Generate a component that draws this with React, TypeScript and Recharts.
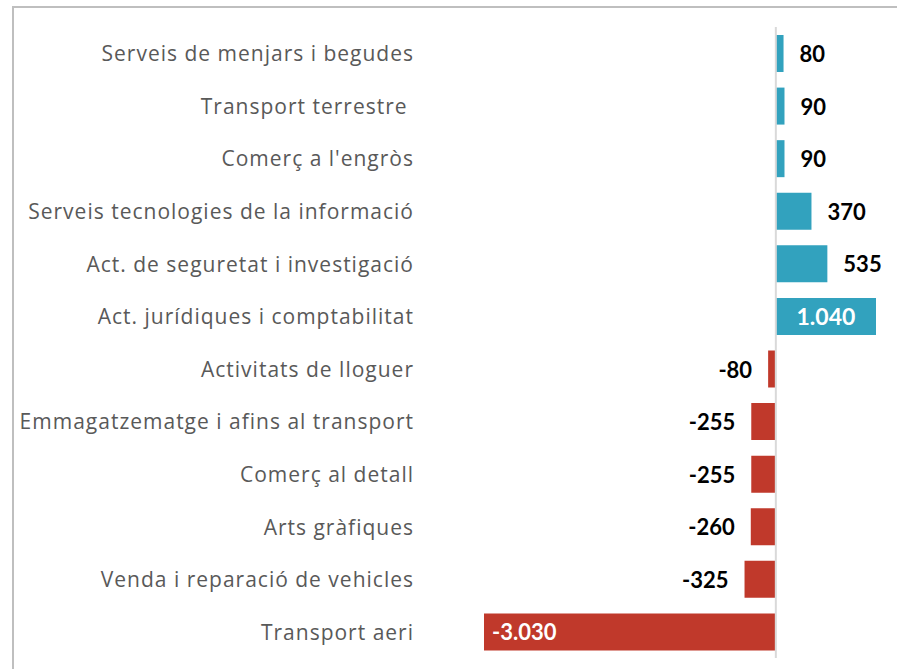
import { BarChart, Bar, XAxis, YAxis, ReferenceLine, Cell, LabelList } from "recharts";

const categories = [
  "Serveis de menjars i begudes",
  "Transport terrestre ",
  "Comerç a l'engròs",
  "Serveis tecnologies de la informació",
  "Act. de seguretat i investigació",
  "Act. jurídiques i comptabilitat",
  "Activitats de lloguer",
  "Emmagatzematge i afins al transport",
  "Comerç al detall",
  "Arts gràfiques",
  "Venda i reparació de vehicles",
  "Transport aeri",
];

const values = [80, 90, 90, 370, 535, 1040, -80, -255, -255, -260, -325, -3030];

const data = categories.map((name, i) => ({ name, value: values[i] }));

const BLUE = "#32a2be";
const RED = "#c0392b";

function fmt(v: number) {
  const s = Math.abs(v).toString().replace(/\B(?=(\d{3})+(?!\d))/g, ".");
  return (v < 0 ? "-" : "") + s;
}

function CategoryTick(props: any) {
  const { x, y, payload } = props;
  const text = String(payload.value).replace(/ $/, "\u00a0");
  return (
    <text
      x={x}
      y={y}
      textAnchor="end"
      dominantBaseline="central"
      fill="#595959"
      style={{ fontFamily: "'Open Sans', sans-serif", fontSize: 21, letterSpacing: 1 }}
    >
      {text}
    </text>
  );
}

function ValueLabel(props: any) {
  const { x, y, width, height, value } = props;
  const left = Math.min(x, x + width);
  const right = Math.max(x, x + width);
  const w = right - left;
  const cy = y + height / 2;
  const style = { fontFamily: "Lato, sans-serif", fontSize: 22, fontWeight: 700 };
  if (w > 80) {
    if (value < 0) {
      return (
        <text x={left + 8} y={cy} textAnchor="start" dominantBaseline="central" fill="#fff" style={style}>
          {fmt(value)}
        </text>
      );
    }
    return (
      <text x={left + w / 2} y={cy} textAnchor="middle" dominantBaseline="central" fill="#fff" style={{ ...style, fontSize: 23 }}>
        {fmt(value)}
      </text>
    );
  }
  if (value < 0) {
    return (
      <text x={left - 16} y={cy} textAnchor="end" dominantBaseline="central" fill="#000" style={style}>
        {fmt(value)}
      </text>
    );
  }
  return (
    <text x={right + 16} y={cy} textAnchor="start" dominantBaseline="central" fill="#000" style={style}>
      {fmt(value)}
    </text>
  );
}

export default function App() {
  return (
    <div style={{ position: "absolute", left: 0, top: 0, width: 897, height: 669, overflow: "hidden", background: "#fff" }}>
      <div
        style={{
          position: "absolute",
          left: 12,
          top: 6,
          width: 920,
          height: 700,
          border: "2px solid #bfbfbf",
          boxSizing: "border-box",
        }}
      />
      <div style={{ position: "absolute", left: 0, top: 0 }}>
        <BarChart
          width={897}
          height={669}
          data={data}
          layout="vertical"
          margin={{ top: 27, right: 21, bottom: 11, left: 0 }}
        >
          <XAxis type="number" domain={[-3030, 1040]} hide />
          <YAxis
            type="category"
            dataKey="name"
            width={484}
            tickSize={0}
            tickMargin={70}
            axisLine={false}
            tickLine={false}
            interval={0}
            tick={<CategoryTick />}
          />
          <Bar dataKey="value" barSize={37} isAnimationActive={false}>
            {data.map((d, i) => (
              <Cell key={`c-${i}`} fill={d.value < 0 ? RED : BLUE} />
            ))}
            <LabelList dataKey="value" content={<ValueLabel />} />
          </Bar>
          <ReferenceLine x={0} stroke="#d9d9d9" strokeWidth={2} />
        </BarChart>
      </div>
    </div>
  );
}
